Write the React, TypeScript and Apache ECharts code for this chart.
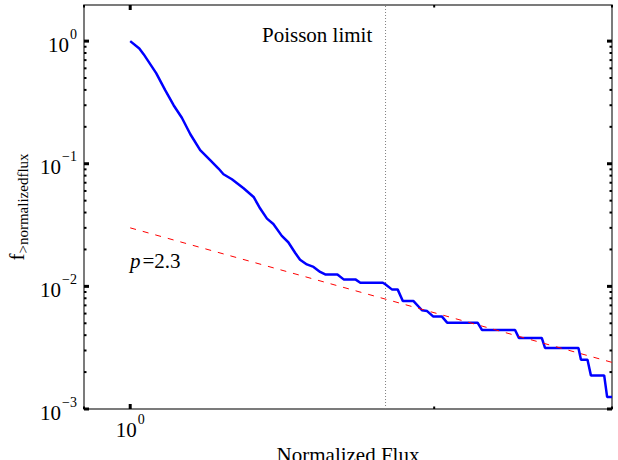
import React, { useEffect, useRef } from 'react';
import * as echarts from 'echarts';

// Cumulative fraction curve (blue)
const FLUX = [
  1.0, 1.021, 1.031, 1.061, 1.083, 1.104, 1.125, 1.147, 1.173, 1.2,
  1.223, 1.237, 1.261, 1.295, 1.325, 1.345, 1.366, 1.386, 1.413, 1.434,
  1.457, 1.473, 1.496, 1.519, 1.542, 1.56, 1.604, 1.627, 1.671, 1.69,
  1.779, 1.789, 1.816, 1.84, 1.862, 1.908, 1.945, 1.968, 1.995, 2.035,
  2.06, 2.208, 2.23, 2.405, 2.426, 2.556, 2.575, 2.779, 2.795, 2.837,
  2.859, 2.947, 2.967, 3.0,
];
const FRACTION = [
  1.0, 0.872, 0.783, 0.548, 0.398, 0.3, 0.237, 0.174, 0.129, 0.107,
  0.0914, 0.0821, 0.0747, 0.0631, 0.0536, 0.0431, 0.0357, 0.0323, 0.0258, 0.0229,
  0.0187, 0.0165, 0.0151, 0.0144, 0.0131, 0.0125, 0.0125, 0.0114, 0.0114, 0.0107,
  0.0107, 0.0104, 0.00945, 0.00945, 0.00759, 0.00759, 0.00639, 0.00629, 0.00569, 0.00569,
  0.00506, 0.00506, 0.00441, 0.00441, 0.0038, 0.0038, 0.00315, 0.00315, 0.00252, 0.00252,
  0.00188, 0.00188, 0.00125, 0.00125,
];

// Power-law fit (red dashed), p = 2.3
const FIT_FLUX = [1, 3];
const FIT_FRACTION = [0.03, 0.0024];

const POISSON_LIMIT = 1.79;

const X_MIN = 0.9;
const X_MAX = 3;
const Y_MIN = 0.001;
const Y_MAX = 1.97;

const Y_MAJOR_TICKS = [0.001, 0.01, 0.1, 1];
const Y_MINOR_TICKS = [
  0.002, 0.003, 0.004, 0.005, 0.006, 0.007, 0.008, 0.009,
  0.02, 0.03, 0.04, 0.05, 0.06, 0.07, 0.08, 0.09,
  0.2, 0.3, 0.4, 0.5, 0.6, 0.7, 0.8, 0.9,
];
const X_MAJOR_TICKS = [1];
const X_MINOR_TICKS = [0.9, 2, 3];

const FONT = '"Liberation Serif", "Times New Roman", serif';

const isPow10 = (v: number) => {
  const e = Math.log10(v);
  return Math.abs(e - Math.round(e)) < 1e-6;
};
const fmt = (v: number) => {
  if (!isPow10(v)) return '';
  const e = Math.round(Math.log10(v));
  return '{b|10}{s|' + (e < 0 ? '\u2212' + -e : String(e)) + '}';
};
const rich = {
  b: { fontFamily: FONT, fontSize: 21, color: '#000', lineHeight: 28, verticalAlign: 'bottom' },
  s: { fontFamily: FONT, fontSize: 14, color: '#000', lineHeight: 14, verticalAlign: 'top', padding: [0, 0, 0, 1] },
};

function tickSeries(values: number[], vertical: boolean, len: number, width: number) {
  return {
    type: 'custom',
    silent: true,
    clip: false,
    z: 10,
    data: values.map((v) => (vertical ? [X_MIN, v] : [v, Y_MIN])),
    encode: { x: 0, y: 1 },
    renderItem: (_params: any, api: any) => {
      const style = { stroke: '#000', lineWidth: width };
      if (vertical) {
        const v = api.value(1);
        const l = api.coord([X_MIN, v]);
        const r = api.coord([X_MAX, v]);
        return {
          type: 'group',
          children: [
            { type: 'line', shape: { x1: l[0], y1: l[1], x2: l[0] + len, y2: l[1] }, style },
            { type: 'line', shape: { x1: r[0] - len, y1: r[1], x2: r[0], y2: r[1] }, style },
          ],
        };
      }
      const v = api.value(0);
      const b = api.coord([v, Y_MIN]);
      const t = api.coord([v, Y_MAX]);
      return {
        type: 'group',
        children: [
          { type: 'line', shape: { x1: b[0], y1: b[1], x2: b[0], y2: b[1] - len }, style },
          { type: 'line', shape: { x1: t[0], y1: t[1], x2: t[0], y2: t[1] + len }, style },
        ],
      };
    },
  };
}

export default function App() {
  const ref = useRef<HTMLDivElement>(null);
  useEffect(() => {
    const chart = echarts.init(ref.current!, null, { renderer: 'svg' });
    const option: any = {
      animation: false,
      backgroundColor: '#fff',
      textStyle: { fontFamily: FONT },
      grid: {
        left: 84, right: 6, top: 5, bottom: 51,
        outerBoundsMode: 'none', containLabel: false,
        show: true, borderColor: '#505050', borderWidth: 1.5, backgroundColor: 'transparent',
      },
      xAxis: {
        type: 'log', logBase: 10, min: X_MIN, max: X_MAX,
        axisLine: { show: false }, axisTick: { show: false }, splitLine: { show: false },
        axisLabel: { formatter: fmt, rich, margin: 3, fontFamily: FONT },
        name: 'Normalized Flux', nameLocation: 'middle', nameGap: 31,
        nameTextStyle: { fontFamily: FONT, fontSize: 21, color: '#000' },
      },
      yAxis: {
        type: 'log', logBase: 10, min: Y_MIN, max: Y_MAX, interval: 1,
        axisLine: { show: false }, axisTick: { show: false }, splitLine: { show: false },
        axisLabel: { formatter: fmt, rich, margin: 7, fontFamily: FONT },
      },
      series: [
        {
          type: 'line', name: 'curve', showSymbol: false, symbol: 'none',
          data: FLUX.map((x, i) => [x, FRACTION[i]]),
          lineStyle: { color: '#0000ff', width: 2.5 },
          z: 3,
        },
        {
          type: 'line', name: 'fit', showSymbol: false, symbol: 'none',
          data: FIT_FLUX.map((x, i) => [x, FIT_FRACTION[i]]),
          lineStyle: { color: '#ff0000', width: 1, type: [6, 7] },
          z: 4,
        },
        {
          type: 'line', name: 'poisson', showSymbol: false, symbol: 'none',
          data: [[POISSON_LIMIT, Y_MIN], [POISSON_LIMIT, Y_MAX]],
          lineStyle: { color: '#808080', width: 1, type: [1, 2] },
          z: 2,
        },
        tickSeries(Y_MAJOR_TICKS, true, 5, 3),
        tickSeries(Y_MINOR_TICKS, true, 2.5, 2),
        tickSeries(X_MAJOR_TICKS, false, 5, 3),
        tickSeries(X_MINOR_TICKS, false, 2.5, 2),
      ],
      graphic: [
        {
          type: 'text', left: 262, top: 24,
          style: { text: 'Poisson limit', fontFamily: FONT, fontSize: 21, fill: '#000' },
        },
        {
          type: 'text', left: 130, top: 250,
          style: {
            text: '{i|p}{n|=2.3}',
            rich: {
              i: { fontFamily: FONT, fontSize: 21, fontStyle: 'italic', fill: '#000' },
              n: { fontFamily: FONT, fontSize: 21, fill: '#000', padding: [0, 0, 0, 2] },
            },
          },
        },
        {
          type: 'text', x: 18, y: 207, rotation: Math.PI / 2,
          style: {
            text: '{f|f}{s|>normalizedflux}',
            align: 'center', verticalAlign: 'middle',
            rich: {
              f: { fontFamily: FONT, fontSize: 21, fill: '#000', lineHeight: 24, verticalAlign: 'top' },
              s: { fontFamily: FONT, fontSize: 15, fill: '#000', lineHeight: 15, verticalAlign: 'bottom' },
            },
          },
        },
      ],
    };
    chart.setOption(option);
    return () => chart.dispose();
  }, []);
  return <div ref={ref} style={{ position: 'absolute', left: 0, top: 0, width: 618, height: 460 }} />;
}
